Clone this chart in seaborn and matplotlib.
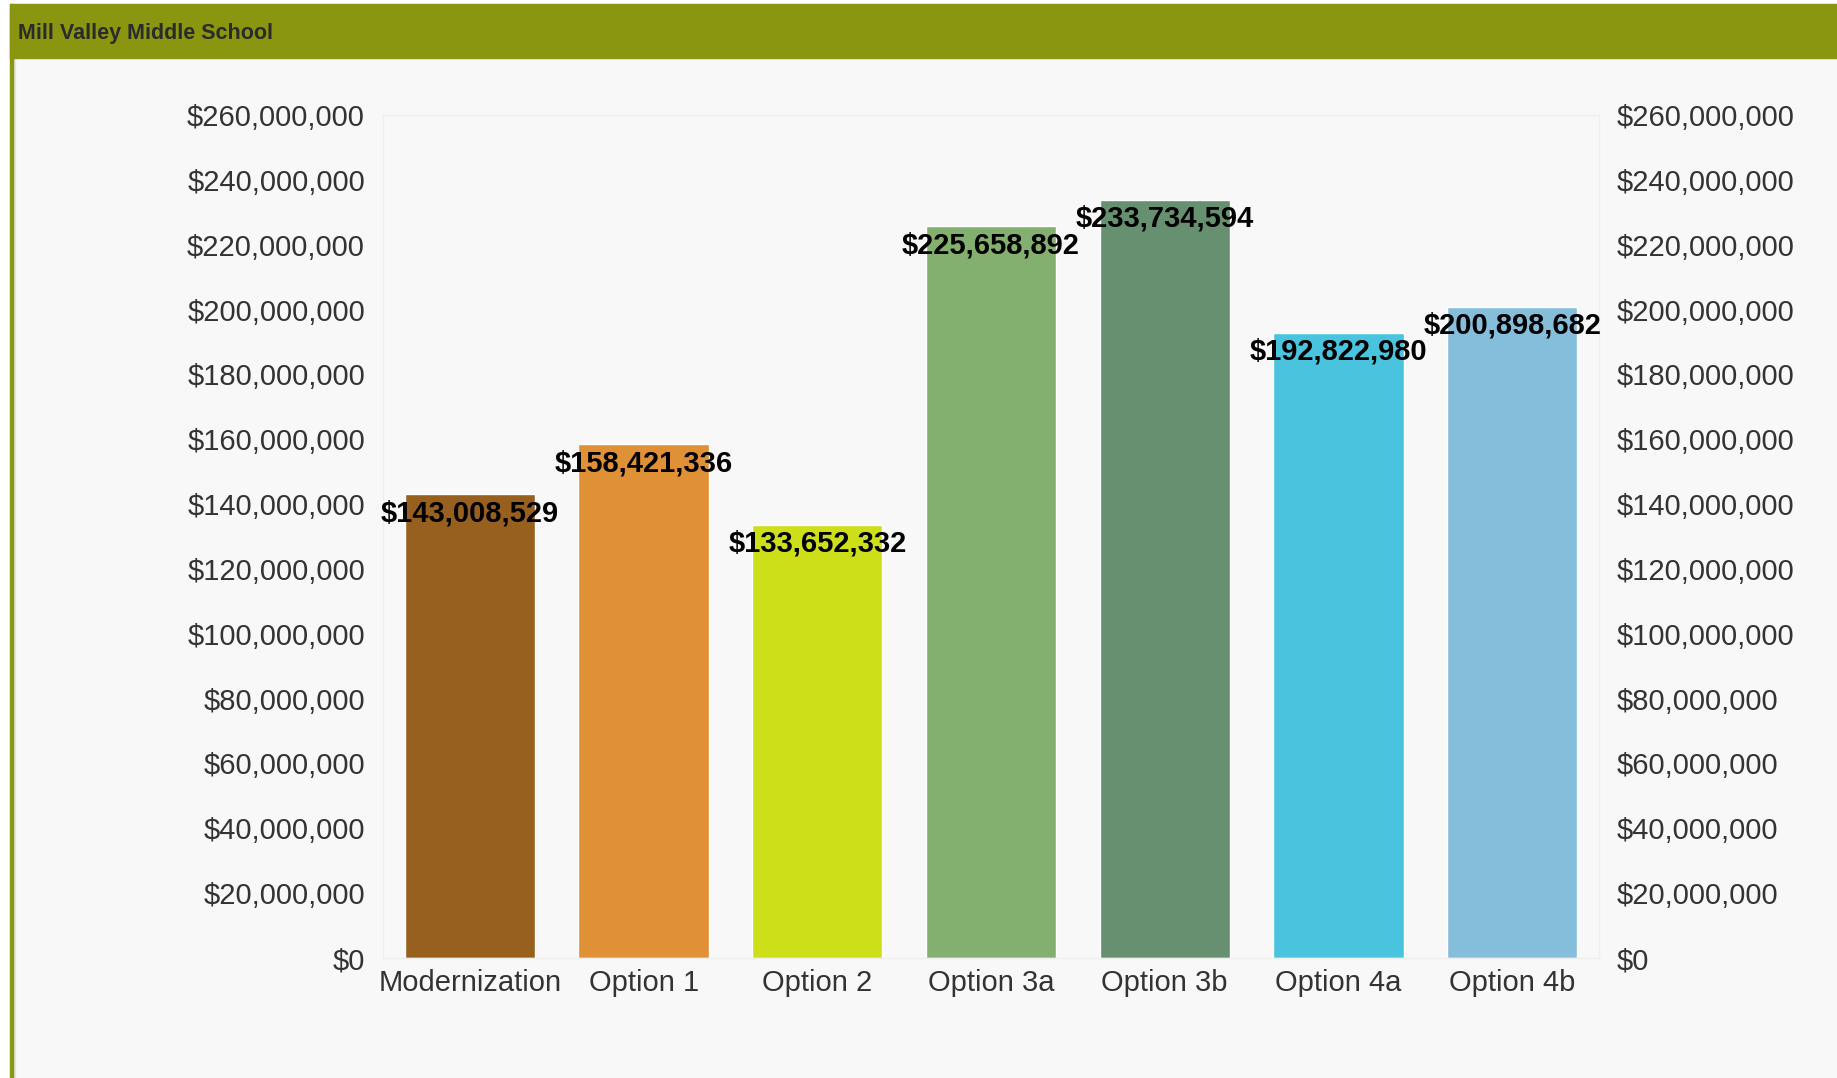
import matplotlib
matplotlib.use('Agg')
import matplotlib.pyplot as plt
from matplotlib.patches import Rectangle
from matplotlib.ticker import FuncFormatter, MultipleLocator
import seaborn as sns
import pandas as pd

# data
options = ['Modernization', 'Option 1', 'Option 2', 'Option 3a',
           'Option 3b', 'Option 4a', 'Option 4b']
costs = [143008529, 158421336, 133652332, 225658892,
         233734594, 192822980, 200898682]
bar_colors = ['#98601f', '#e09035', '#cddf19', '#83b06e',
              '#66906f', '#4ac4de', '#85bedb']
title = 'Mill Valley Middle School'

BG = '#f8f8f8'
HEADER = '#8a9610'

sns.set_theme(style='white')
plt.rcParams['font.family'] = ['Liberation Sans', 'DejaVu Sans']

df = pd.DataFrame({'Option': options, 'Cost': costs})

fig = plt.figure(figsize=(18.37, 10.78), dpi=100, facecolor='white')
W, H = 1837, 1078

# panel body, borders and header band (behind the axes)
def _panel(x, y, w, h, color, z):
    fig.patches.append(Rectangle((x / W, y / H), w / W, h / H,
                                 transform=fig.transFigure, color=color, zorder=z))

_panel(12, 0, W - 12, H - 4, BG, -10)
_panel(12, 0, 3, H - 58, '#e4e4e4', -9)
_panel(10, 0, 2.5, H - 4, HEADER, -9)
_panel(10, H - 58, W - 10, 54, HEADER, -9)
fig.text(18 / W, 1 - 33.5 / H, title, fontsize=15.5, fontweight='bold',
         color='#2b2b2b', va='center', ha='left')

ax = fig.add_axes([383 / W, 120 / H, 1216 / W, 843 / H])
ax.set_facecolor(BG)

sns.barplot(data=df, x='Option', y='Cost', hue='Option', palette=bar_colors,
            width=0.75, saturation=1, legend=False, ax=ax)

ax.set_ylim(0, 260_000_000)
ax.set_xlim(-0.5, 6.5)
ax.yaxis.set_major_locator(MultipleLocator(20_000_000))
ax.yaxis.set_major_formatter(FuncFormatter(lambda v, _: f'${v:,.0f}'))
ax.set_xlabel('')
ax.set_ylabel('')
ax.tick_params(axis='y', labelleft=True, labelright=True, left=False, right=False,
               labelsize=21, labelcolor='#333333', pad=7)
ax.tick_params(axis='x', bottom=False, labelsize=21, labelcolor='#333333', pad=2)

for s in ax.spines.values():
    s.set_color('#eeeeee')
    s.set_linewidth(1)

for i, v in enumerate(costs):
    ax.annotate(f'${v:,.0f}', (i, v), xytext=(0, -13.5), textcoords='offset points',
                ha='center', va='center', fontsize=21, fontweight='bold', color='black')

fig.savefig('out.png', dpi=100, facecolor='white')
